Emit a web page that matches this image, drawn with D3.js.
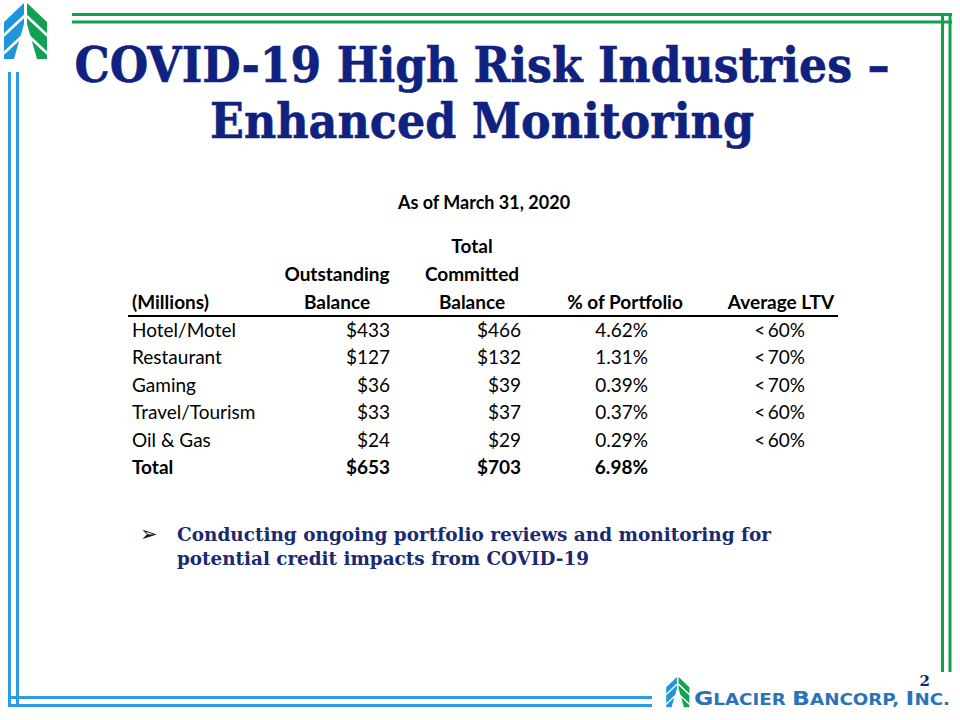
<!DOCTYPE html>
<html><head><meta charset="utf-8">
<script src="https://cdn.jsdelivr.net/npm/d3@7"></script>
<style>html,body{margin:0;padding:0;background:#fff;}</style>
</head><body>
<script>
// ---- data ----
const titleLines = ["COVID-19 High Risk Industries \u2013", "Enhanced Monitoring"];
const subtitle = "As of March 31, 2020";
const categories = ["Hotel/Motel", "Restaurant", "Gaming", "Travel/Tourism", "Oil & Gas"];
const outstandingBalance = [433, 127, 36, 33, 24];
const committedBalance = [466, 132, 39, 37, 29];
const pctPortfolio = [4.62, 1.31, 0.39, 0.37, 0.29];
const averageLTV = ["<\u200960%", "<\u200970%", "<\u200970%", "<\u200960%", "<\u200960%"];
const totalLabel = "Total";
const totalOutstanding = 653;
const totalCommitted = 703;
const totalPct = 6.98;
const columns = ["label", "outstanding", "committed", "pct", "ltv"];
const headerLines = {
  label: ["", "", "(Millions)"],
  outstanding: ["", "Outstanding", "Balance"],
  committed: ["Total", "Committed", "Balance"],
  pct: ["", "", "% of Portfolio"],
  ltv: ["", "", "Average LTV"]
};
const bulletLines = ["Conducting ongoing portfolio reviews and monitoring for", "potential credit impacts from COVID-19"];
const pageNumber = "2";
const companyParts = [["G", true], ["LACIER ", false], ["B", true], ["ANCORP, ", false], ["I", true], ["NC.", false]];

// ---- layout ----
const W = 960, H = 720;
const navy = "#102280";
const green = "#11a04c";
const blue = "#2f9be6";
const svg = d3.select("body").append("svg").attr("width", W).attr("height", H);

// borders
const bg = svg.append("g").attr("fill", "none").attr("stroke-width", 3);
[14.5, 22].forEach(y => bg.append("line").attr("x1", 72).attr("x2", 952).attr("y1", y).attr("y2", y).attr("stroke", green));
[942.5, 950].forEach(x => bg.append("line").attr("x1", x).attr("x2", x).attr("y1", 13).attr("y2", 672).attr("stroke", green));
[9.5, 17.5].forEach(x => bg.append("line").attr("x1", x).attr("x2", x).attr("y1", 72).attr("y2", 707).attr("stroke", blue));
[697.5, 705.5].forEach(y => bg.append("line").attr("x1", 8).attr("x2", 652).attr("y1", y).attr("y2", y).attr("stroke", blue));

// icon
function drawIcon(g) {
  const line = d3.line();
  g.append("path").attr("d", line([[24,2],[24,23],[14,58],[4,58],[4,21]]) + "Z").attr("fill", "#1f95dc");
  g.append("path").attr("d", line([[27,2],[27,23],[37,58],[47,58],[47,21]]) + "Z").attr("fill", "#14a052");
  [13, 31].forEach(k => {
    g.append("line").attr("x1", 2).attr("y1", 23 + k).attr("x2", 25).attr("y2", 1.5 + k).attr("stroke", "#fff").attr("stroke-width", 2.6);
    g.append("line").attr("x1", 49).attr("y1", 23 + k).attr("x2", 26).attr("y2", 1.5 + k).attr("stroke", "#fff").attr("stroke-width", 2.6);
  });
}
drawIcon(svg.append("g").attr("transform", "translate(0,1)"));
drawIcon(svg.append("g").attr("transform", "translate(664,676) scale(0.54)"));

// fit helper
function fit(sel, width) {
  sel.attr("textLength", width).attr("lengthAdjust", "spacingAndGlyphs");
}

// title
const titleY = [82, 138];
const titleW = [815, 544];
titleLines.forEach((t, i) => {
  svg.append("text").attr("x", 482).attr("y", titleY[i]).attr("text-anchor", "middle")
    .attr("font-family", "DejaVu Serif").attr("font-weight", "bold").attr("font-size", 48)
    .attr("fill", navy).attr("stroke", navy).attr("stroke-width", 0.6).text(t).call(fit, titleW[i]);
});

// table
const font = "Lato";
svg.append("text").attr("x", 484).attr("y", 209).attr("text-anchor", "middle")
  .attr("font-family", font).attr("font-weight", "bold").attr("font-size", 18).text(subtitle);

const rows = categories.concat([totalLabel]);
const y = d3.scalePoint().domain(rows).range([337, 474]);
const headerY = d3.scalePoint().domain([0, 1, 2]).range([253, 309]);
const colAnchor = d3.scaleOrdinal().domain(columns).range([132, 390, 521, 648, 805]);
const colCenter = d3.scaleOrdinal().domain(columns).range([132, 337, 472, 625, 781]);

const tg = svg.append("g").attr("font-family", font).attr("font-size", 19).attr("fill", "#000");
columns.forEach(c => {
  headerLines[c].forEach((t, i) => {
    if (!t) return;
    tg.append("text").attr("x", colCenter(c)).attr("y", headerY(i))
      .attr("text-anchor", c === "label" ? "start" : "middle").attr("font-weight", "bold").text(t);
  });
});
tg.append("line").attr("x1", 128).attr("x2", 838).attr("y1", 316).attr("y2", 316).attr("stroke", "#000").attr("stroke-width", 2);

const fmtD = d => "$" + d3.format(",")(d);
const fmtP = d => d3.format(".2f")(d) + "%";
const tableRows = categories.map((c, i) => ({
  label: c, outstanding: fmtD(outstandingBalance[i]), committed: fmtD(committedBalance[i]),
  pct: fmtP(pctPortfolio[i]), ltv: averageLTV[i], bold: false
}));
tableRows.push({label: totalLabel, outstanding: fmtD(totalOutstanding), committed: fmtD(totalCommitted), pct: fmtP(totalPct), ltv: "", bold: true});

tableRows.forEach(r => {
  columns.forEach(c => {
    if (!r[c]) return;
    tg.append("text").attr("x", colAnchor(c)).attr("y", y(r.label))
      .attr("text-anchor", c === "label" ? "start" : "end")
      .attr("font-weight", r.bold ? "bold" : "normal").text(r[c]);
  });
});

// bullet
svg.append("text").attr("x", 140).attr("y", 541).attr("font-family", "DejaVu Sans").attr("font-size", 21)
  .attr("fill", "#111").text("\u27A2");
const bulletY = [541, 565];
const bulletW = [594, 412];
bulletLines.forEach((t, i) => {
  svg.append("text").attr("x", 177).attr("y", bulletY[i])
    .attr("font-family", "DejaVu Serif").attr("font-weight", "bold").attr("font-size", 19)
    .attr("fill", "#1a2a70").text(t).call(fit, bulletW[i]);
});

// page number
svg.append("text").attr("x", 930).attr("y", 686).attr("text-anchor", "end")
  .attr("font-family", "DejaVu Serif").attr("font-weight", "bold").attr("font-size", 15)
  .attr("fill", navy).text(pageNumber);

// company name
const ct = svg.append("text").attr("x", 694).attr("y", 705)
  .attr("font-family", "DejaVu Sans").attr("font-weight", "bold").attr("fill", "#2a73b8");
companyParts.forEach(([t, big]) => {
  ct.append("tspan").attr("font-size", big ? 20 : 15.5).text(t);
});
ct.call(fit, 256);
</script>
</body></html>
